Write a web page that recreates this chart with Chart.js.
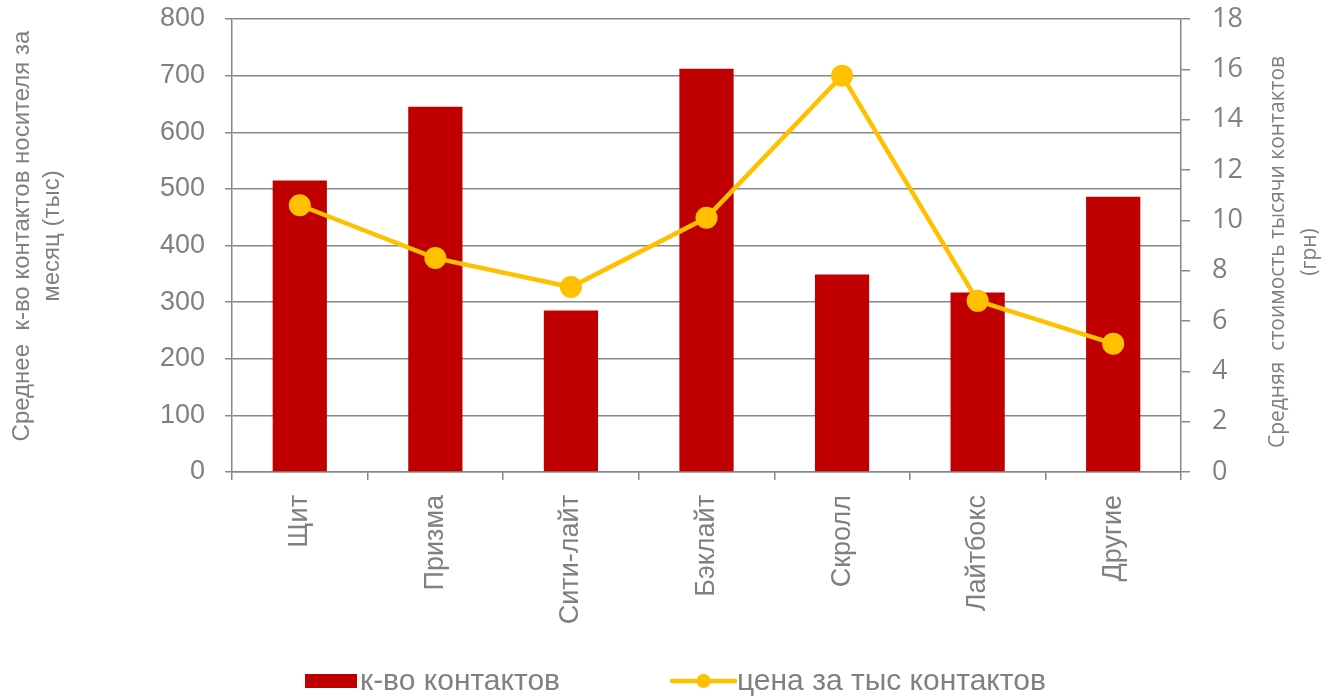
<!DOCTYPE html>
<html>
<head>
<meta charset="utf-8">
<script src="https://cdn.jsdelivr.net/npm/chart.js@4/dist/chart.umd.min.js"></script>
<style>
    html, body { margin: 0; padding: 0; background: #fff; }
    #wrap { width: 1322px; height: 696px; }
</style>
</head>
<body>
<div id="wrap"><canvas id="mediaChart" width="1322" height="696"></canvas></div>
<script>
const categories = ['Щит', 'Призма', 'Сити-лайт', 'Бэклайт', 'Скролл', 'Лайтбокс', 'Другие'];
const contacts = [515, 645, 285, 712, 349, 317, 486];       // тыс. контактов в месяц
const pricePerThousand = [10.6, 8.5, 7.35, 10.1, 15.75, 6.8, 5.1]; // грн

const leftTitle = ['Среднее  к-во контактов носителя за', 'месяц (тыс)'];
const rightTitle = ['Средняя  стоимость тысячи контактов', '(грн)'];
const legendLabels = ['к-во контактов', 'цена за тыс контактов'];

const RED = '#C00000';
const GOLD = '#FFC000';
const GRAY_TEXT = '#808080';
const GRAY_LINE = '#878787';
const ARIAL = "'Liberation Sans', Arial, sans-serif";
const CALIBRI = "'Open Sans', 'Noto Sans', sans-serif";

// rotated axis titles, both read bottom-to-top
const axisTitles = {
    id: 'axisTitles',
    afterDraw(chart) {
        const ctx = chart.ctx;
        const drawRotated = (lines, xs, cy, font) => {
            ctx.save();
            ctx.fillStyle = GRAY_TEXT;
            ctx.font = font;
            ctx.textAlign = 'center';
            ctx.textBaseline = 'middle';
            lines.forEach((line, i) => {
                ctx.save();
                ctx.translate(xs[i], cy);
                ctx.rotate(-Math.PI / 2);
                ctx.fillText(line, 0, 0);
                ctx.restore();
            });
            ctx.restore();
        };
        drawRotated(leftTitle, [22, 52], 236, '24px ' + ARIAL);
        drawRotated(rightTitle, [1278, 1310], 252, '21px ' + CALIBRI);
    }
};

// legend: red box + line with marker
const bottomLegend = {
    id: 'bottomLegend',
    afterDraw(chart) {
        const ctx = chart.ctx;
        const cy = 681;
        let x = 305;
        ctx.save();
        ctx.font = '30px ' + ARIAL;
        ctx.textBaseline = 'middle';
        ctx.textAlign = 'left';

        ctx.fillStyle = RED;
        ctx.fillRect(x, cy - 7, 52, 14);
        x += 55;
        ctx.fillStyle = GRAY_TEXT;
        ctx.fillText(legendLabels[0], x, cy + 1);
        x += ctx.measureText(legendLabels[0]).width + 112;

        ctx.strokeStyle = GOLD;
        ctx.lineWidth = 4.5;
        ctx.lineCap = 'round';
        ctx.beginPath();
        ctx.moveTo(x, cy);
        ctx.lineTo(x + 63, cy);
        ctx.stroke();
        ctx.fillStyle = GOLD;
        ctx.beginPath();
        ctx.arc(x + 31.5, cy, 7, 0, Math.PI * 2);
        ctx.fill();
        x += 65;
        ctx.fillStyle = GRAY_TEXT;
        ctx.fillText(legendLabels[1], x, cy + 1);
        ctx.restore();
    }
};

// keep the tick padding from pushing the plot area down
function fixVertical(scale, width) {
    scale.width = width;
    scale.paddingTop = 0;
    scale.paddingBottom = 0;
}

const ctx = document.getElementById('mediaChart').getContext('2d');
new Chart(ctx, {
    type: 'bar',
    data: {
        labels: categories,
        datasets: [{
            type: 'line',
            label: legendLabels[1],
            data: pricePerThousand,
            yAxisID: 'y1',
            borderColor: GOLD,
            backgroundColor: GOLD,
            borderWidth: 4.5,
            pointRadius: 11,
            pointBorderWidth: 0,
            pointBackgroundColor: GOLD,
            tension: 0,
            order: 0
        }, {
            label: legendLabels[0],
            data: contacts,
            yAxisID: 'y',
            backgroundColor: RED,
            categoryPercentage: 1,
            barPercentage: 0.4,
            order: 1
        }]
    },
    options: {
        responsive: false,
        animation: false,
        layout: { padding: { top: 19, bottom: 64, left: 0, right: 0 } },
        plugins: {
            legend: { display: false },
            tooltip: { enabled: false }
        },
        scales: {
            x: {
                offset: true,
                grid: {
                    offset: true,
                    drawOnChartArea: false,
                    color: GRAY_LINE,
                    lineWidth: 1.5,
                    tickLength: 8
                },
                border: { color: GRAY_LINE, width: 1.5 },
                ticks: {
                    maxRotation: 90,
                    minRotation: 90,
                    padding: 15,
                    color: GRAY_TEXT,
                    font: { family: ARIAL, size: 27 }
                },
                afterFit(scale) { scale.height = 160; }
            },
            y: {
                position: 'left',
                min: 0,
                max: 800,
                grid: {
                    color: GRAY_LINE,
                    lineWidth: 1.5,
                    tickLength: 7
                },
                border: { color: GRAY_LINE, width: 1.5 },
                ticks: {
                    stepSize: 100,
                    padding: 20,
                    color: GRAY_TEXT,
                    font: { family: ARIAL, size: 27 }
                },
                afterFit(scale) { fixVertical(scale, 232); }
            },
            y1: {
                position: 'right',
                min: 0,
                max: 18,
                grid: {
                    drawOnChartArea: false,
                    color: GRAY_LINE,
                    lineWidth: 1.5,
                    tickLength: 9
                },
                border: { color: GRAY_LINE, width: 1.5 },
                ticks: {
                    stepSize: 2,
                    padding: 22,
                    color: GRAY_TEXT,
                    font: { family: CALIBRI, size: 27 }
                },
                afterFit(scale) { fixVertical(scale, 141); }
            }
        }
    },
    plugins: [axisTitles, bottomLegend]
});
</script>
</body>
</html>
